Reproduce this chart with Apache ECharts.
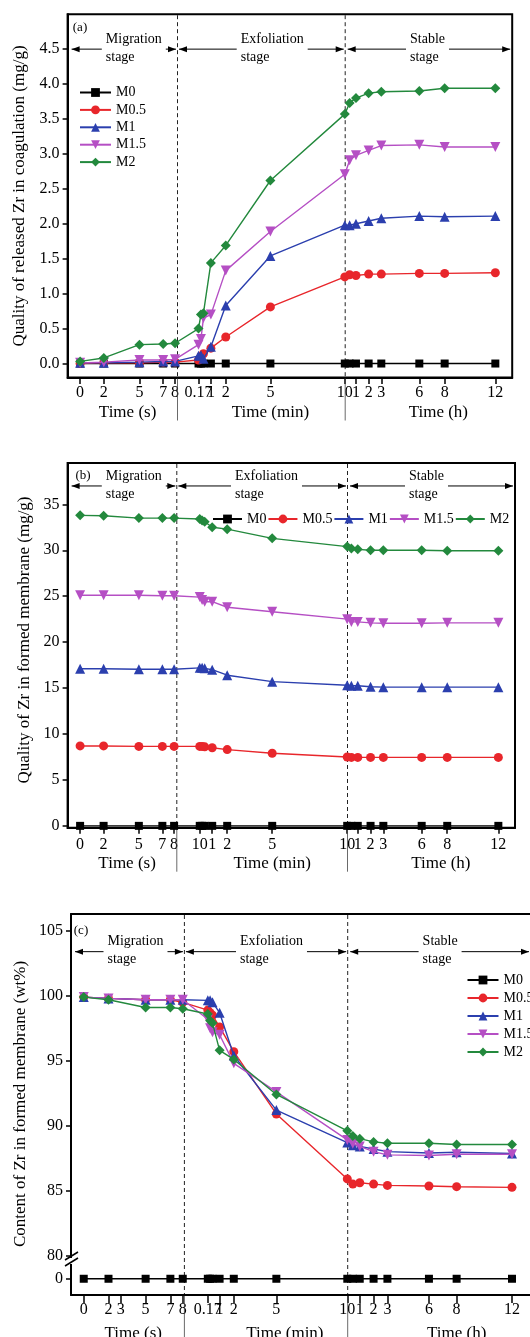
<!DOCTYPE html>
<html><head><meta charset="utf-8">
<script src="https://cdn.jsdelivr.net/npm/echarts@6/dist/echarts.min.js"></script>
<style>html,body{margin:0;padding:0;background:#fff}#c{width:530px;height:1337px}</style>
</head><body><div id="c"></div>
<script>
// ---------------- DATA ----------------
const secT = [0, 2, 5, 7, 8];                    // seconds
const minT = [0.17, 0.33, 0.5, 1, 2, 5, 10];     // minutes
const hrT  = [0.5, 1, 2, 3, 6, 8, 12];           // hours
const seriesNames = ['M0', 'M0.5', 'M1', 'M1.5', 'M2'];

// (a) Quality of released Zr in coagulation (mg/g)
const aM0  = [0,0,0,0,0, 0,0,0,0,0,0,0, 0,0,0,0,0,0,0];
const aM05 = [0,0.01,0.01,0.02,0.02, 0.05,0.10,0.14,0.22,0.38,0.81,1.24, 1.27,1.26,1.28,1.28,1.29,1.29,1.30];
const aM1  = [0.01,0.01,0.02,0.03,0.03, 0.11,0.12,0.07,0.24,0.83,1.54,1.98, 1.98,2.00,2.04,2.08,2.11,2.10,2.11];
const aM15 = [0.01,0.02,0.05,0.05,0.06, 0.27,0.35,0.65,0.70,1.33,1.89,2.71, 2.91,2.98,3.05,3.12,3.13,3.10,3.10];
const aM2  = [0.03,0.08,0.27,0.28,0.29, 0.50,0.70,0.72,1.44,1.69,2.62,3.57, 3.73,3.80,3.87,3.89,3.90,3.94,3.94];

// (b) Quality of Zr in formed membrane (mg/g)
const bM0  = [0,0,0,0,0, 0,0,0,0,0,0,0, 0,0,0,0,0,0,0];
const bM05 = [8.7,8.7,8.65,8.65,8.65, 8.65,8.65,8.6,8.5,8.3,7.9,7.5, 7.45,7.45,7.45,7.45,7.45,7.45,7.45];
const bM1  = [17.1,17.1,17.05,17.05,17.05, 17.2,17.2,17.15,17.0,16.4,15.7,15.3, 15.25,15.25,15.15,15.1,15.1,15.1,15.1];
const bM15 = [25.1,25.1,25.1,25.05,25.05, 24.9,24.6,24.4,24.4,23.8,23.3,22.5, 22.2,22.2,22.1,22.05,22.05,22.1,22.1];
const bM2  = [33.8,33.75,33.5,33.5,33.5, 33.4,33.25,33.1,32.5,32.3,31.3,30.4, 30.2,30.1,30.0,30.0,30.0,29.95,29.95];

// (c) Content of Zr in formed membrane (wt%)
const cM0  = [0,0,0,0,0, 0,0,0,0,0,0,0, 0,0,0,0,0,0,0];
const cM05 = [99.9,99.8,99.7,99.7,99.5, 98.9,98.7,98.5,97.6,95.7,90.9,85.9, 85.5,85.6,85.5,85.4,85.35,85.3,85.25];
const cM1  = [99.9,99.8,99.7,99.7,99.7, 99.65,99.65,99.5,98.7,95.4,91.2,88.7, 88.5,88.4,88.2,88.0,87.9,87.95,87.85];
const cM15 = [99.9,99.8,99.7,99.7,99.7, 98.2,97.5,97.2,97.0,94.8,92.6,88.9, 88.6,88.4,88.0,87.75,87.7,87.8,87.8];
const cM2  = [99.9,99.7,99.1,99.1,99.0, 98.6,98.1,97.9,95.8,95.1,92.4,89.6, 89.2,89.0,88.75,88.65,88.65,88.55,88.55];

// tick labels
const secTicksAB = [0, 2, 5, 7, 8];
const secTicksC  = [0, 2, 3, 5, 7, 8];
const minTicks   = [0.17, 1, 2, 5, 10];
const minLabelsAC = ['0.17', '1', '2', '5', '10'];
const minLabelsB  = ['10', '1', '2', '5', '10'];
const hrTicks    = [1, 2, 3, 6, 8, 12];
const yTicksA = [0, 0.5, 1, 1.5, 2, 2.5, 3, 3.5, 4, 4.5];
const yTicksB = [0, 5, 10, 15, 20, 25, 30, 35];
const yTicksC = [80, 85, 90, 95, 100, 105];
const yTicksC0 = [0];
const yTitles = ['Quality of released Zr in coagulation (mg/g)', 'Quality of Zr in formed membrane (mg/g)', 'Content of Zr in formed membrane (wt%)'];
const stageTexts = ['Migration\nstage', 'Exfoliation\nstage', 'Stable\nstage'];
const segTitles = ['Time (s)', 'Time (min)', 'Time (h)'];

// ---------------- STYLE / LAYOUT ----------------
const FONT = '"Liberation Serif","Times New Roman",Times,serif';
const COLORS = {'M0':'#000000','M0.5':'#e8262b','M1':'#2b3fae','M1.5':'#b54fc4','M2':'#23893d'};
const SYMBOLS = {'M0':'rect','M0.5':'circle','M1':'triangle','M1.5':'path://M0,0L10,0L5,9Z','M2':'diamond'};
const SIZES = {'M0':8,'M0.5':9,'M1':10,'M1.5':10,'M2':10};

const PANELS = [
  { key:'a', grid:{left:67.6, top:14.2, width:444.6, height:363.3}, y:[-0.2, 5.0],
    seg:{s:[12.5,11.87], min:[128.4,14.88], h:[275.7,12.67]},
    sep:[109.9, 277.6], arrowY:4.5, textX:[105.8, 240.7, 410], tag:{x:80, y:28, t:'(a)'},
    titleY:413, titleAt:[['s',4],['min',5],['h',7.5]], sepBelow:43, yTitle:{x:19.5, y:196},
    vals:[aM0,aM05,aM1,aM15,aM2], yTicks:yTicksA, yFmt:v=>v.toFixed(1),
    secTicks:secTicksAB, minLabels:minLabelsAC, tickLen:6.5, labMargin:7,
    legend:{orient:'vertical', left:74, top:80.5, itemGap:3.4, itemWidth:31} },
  { key:'b', grid:{left:67.6, top:463, width:447.4, height:364.7}, y:[-0.2, 39.5],
    seg:{s:[12.5,11.75], min:[129.6,15.0], h:[277.4,12.78]},
    sep:[109.2, 279.9], arrowY:37, textX:[105.8, 235, 409], tag:{x:83, y:475.5, t:'(b)'},
    titleY:864, titleAt:[['s',4],['min',5],['h',7.5]], sepBelow:44, yTitle:{x:25, y:640},
    vals:[bM0,bM05,bM1,bM15,bM2], yTicks:yTicksB, yFmt:v=>String(v),
    secTicks:secTicksAB, minLabels:minLabelsB, tickLen:6, labMargin:9,
    legend:{orient:'horizontal', left:207, top:507, itemGap:1, itemWidth:29} },
  { key:'c', grid:{left:71, top:914, width:461, height:348}, y:[79.5, 106.3],
    grid2:{left:71, top:1262, width:461, height:33}, y2:[-1.25, 1.29],
    seg:{s:[12.8,12.43], min:[135,14.25], h:[276.1,13.9]},
    sep:[113.9, 277.9], arrowY:103.4, textX:[107.5, 240, 422.6], tag:{x:81, y:930.7, t:'(c)'},
    titleY:1334, titleAt:[['s',4],['min',5.6],['h',8]], sepBelow:45, yTitle:{x:21, y:1104},
    vals:[cM0,cM05,cM1,cM15,cM2], yTicks:yTicksC, yFmt:v=>String(v),
    secTicks:secTicksC, minLabels:minLabelsAC, tickLen:8, labMargin:7,
    legend:{orient:'vertical', left:461.5, top:968, itemGap:4, itemWidth:31} }
];

const timePts = [...secT.map(t=>['s',t]), ...minT.map(t=>['min',t]), ...hrT.map(t=>['h',t])];
function toU(p, seg, t){ const s = p.seg[seg]; return s[0] + s[1]*t; }

function xTickList(p){
  const list = [];
  p.secTicks.forEach(t=>list.push([toU(p,'s',t), String(t)]));
  minTicks.forEach((t,i)=>list.push([toU(p,'min',t), p.minLabels[i]]));
  hrTicks.forEach(t=>list.push([toU(p,'h',t), String(t)]));
  return list;
}

const grids = [], xAxes = [], yAxes = [], series = [], legends = [];
const axisBlack = {color:'#000', width:2};

PANELS.forEach((p, pi) => {
  const ticks = xTickList(p);
  const tickVals = ticks.map(d=>d[0]);
  const fmtX = v => { const f = ticks.find(d=>Math.abs(d[0]-v)<1e-6); return f ? f[1] : ''; };
  const W = p.grid.width;
  const hasLower = !!p.grid2;
  const gi = grids.length;
  grids.push(Object.assign({}, p.grid, hasLower ? {show:false} : {show:true, borderColor:'#000', borderWidth:2}));
  let gLower = null;
  if (hasLower) { gLower = grids.length; grids.push(Object.assign({show:false}, p.grid2)); }
  p.xi = xAxes.length; p.yi = yAxes.length;

  const visibleX = {
    type:'value', min:0, max:W,
    axisLine:{show:true, onZero:false, lineStyle:axisBlack},
    axisTick:{show:true, inside:false, length:p.tickLen, customValues:tickVals, lineStyle:{color:'#000', width:1.5}},
    axisLabel:{show:true, customValues:tickVals, formatter:fmtX, fontFamily:FONT, fontSize:16, color:'#000', margin:p.labMargin},
    splitLine:{show:false}
  };
  const yAxisBase = (ticksY, fmt, range, gidx) => ({
    type:'value', gridIndex:gidx, min:range[0], max:range[1],
    axisLine:{show:true, onZero:false, lineStyle:axisBlack},
    axisTick:{show:true, inside:false, length:5, customValues:ticksY, lineStyle:{color:'#000', width:1.5}},
    axisLabel:{show:true, customValues:ticksY, formatter:fmt, fontFamily:FONT, fontSize:16, color:'#000', margin:8},
    splitLine:{show:false}
  });

  if (!hasLower) {
    xAxes.push(Object.assign({gridIndex:gi, position:'bottom'}, visibleX));
    yAxes.push(yAxisBase(p.yTicks, p.yFmt, p.y, gi));
    p.xiB = p.xi;
  } else {
    xAxes.push({type:'value', gridIndex:gi, position:'top', min:0, max:W,
      axisLine:{show:true, onZero:false, lineStyle:axisBlack}, axisTick:{show:false}, axisLabel:{show:false}, splitLine:{show:false}});
    yAxes.push(yAxisBase(p.yTicks, p.yFmt, p.y, gi));
    p.xiB = xAxes.length;
    p.yiLow = yAxes.length;
    xAxes.push(Object.assign({gridIndex:gLower, position:'bottom'}, visibleX));
    yAxes.push(yAxisBase(yTicksC0, v=>String(v), p.y2, gLower));
  }

  seriesNames.forEach((name, si) => {
    const vals = p.vals[si];
    const useLower = hasLower && name === 'M0';
    series.push({
      type:'line', name:name,
      xAxisIndex: useLower ? p.xiB : p.xi,
      yAxisIndex: useLower ? p.yiLow : p.yi,
      data: timePts.map((tp,i)=>[toU(p, tp[0], tp[1]), vals[i]]),
      symbol:SYMBOLS[name], symbolSize:SIZES[name], showSymbol:true,
      lineStyle:{color:COLORS[name], width:1.4},
      itemStyle:{color:COLORS[name]},
      emphasis:{disabled:true}, animation:false, z: 2 + (name==='M0' ? 0 : si)
    });
  });

  legends.push(Object.assign({
    data:seriesNames, itemHeight:11,
    textStyle:{fontFamily:FONT, fontSize:14, color:'#000'}, selectedMode:false
  }, p.legend));
});

const option = {
  backgroundColor:'#fff', animation:false,
  grid:grids, xAxis:xAxes, yAxis:yAxes, series:series, legend:legends
};

const chart = echarts.init(document.getElementById('c'), null, {renderer:'canvas'});
chart.setOption(option);

// ---------------- annotations (positions via the axes) ----------------
const gfx = [];
PANELS.forEach(p => {
  const X = u => chart.convertToPixel({xAxisIndex:p.xiB}, u);
  const Y = v => chart.convertToPixel({yAxisIndex:p.yi}, v);
  const top = p.grid.top;
  const bot = p.grid2 ? p.grid2.top + p.grid2.height : p.grid.top + p.grid.height;
  const left = p.grid.left, right = p.grid.left + p.grid.width;
  const xs = p.sep.map(X);
  xs.forEach(x => {
    gfx.push({type:'line', silent:true, z:1, shape:{x1:x, y1:top+1, x2:x, y2:bot-1}, style:{stroke:'#222', lineWidth:1, lineDash:[4,3]}});
    gfx.push({type:'line', silent:true, z:1, shape:{x1:x, y1:bot+1, x2:x, y2:bot+p.sepBelow}, style:{stroke:'#444', lineWidth:0.8}});
  });
  const ay = Y(p.arrowY);
  const stages = [[left+4, xs[0]-1.5], [xs[0]+1.5, xs[1]-1.5], [xs[1]+2.5, Math.min(right-2, 529)]];
  stages.forEach((st, i) => {
    const [x1, x2] = st;
    gfx.push({type:'line', silent:true, z:2, shape:{x1:x1, y1:ay, x2:x2, y2:ay}, style:{stroke:'#000', lineWidth:1}});
    gfx.push({type:'polygon', silent:true, z:3, shape:{points:[[x1,ay],[x1+8,ay-3],[x1+8,ay+3]]}, style:{fill:'#000'}});
    gfx.push({type:'polygon', silent:true, z:3, shape:{points:[[x2,ay],[x2-8,ay-3],[x2-8,ay+3]]}, style:{fill:'#000'}});
    gfx.push({type:'text', silent:true, z:4, x:p.textX[i]-4, y:ay-1,
      style:{text:stageTexts[i], fontFamily:FONT, fontSize:14, fill:'#000', align:'left', verticalAlign:'middle',
             lineHeight:18, backgroundColor:'#fff', padding:[0,4,0,4]}});
  });
  gfx.push({type:'text', silent:true, z:4, x:p.tag.x, y:p.tag.y,
    style:{text:p.tag.t, fontFamily:FONT, fontSize:13, fill:'#000', align:'center', verticalAlign:'middle'}});
  p.titleAt.forEach((ta, i) => {
    gfx.push({type:'text', silent:true, z:4, x:X(toU(p, ta[0], ta[1])), y:p.titleY,
      style:{text:segTitles[i], fontFamily:FONT, fontSize:17, fill:'#000', align:'center', verticalAlign:'middle'}});
  });
  gfx.push({type:'text', silent:true, z:4, x:p.yTitle.x, y:p.yTitle.y, rotation:Math.PI/2,
    style:{text:yTitles[PANELS.indexOf(p)], fontFamily:FONT, fontSize:17, fill:'#000', align:'center', verticalAlign:'middle'}});
  if (p.grid2) {
    const bx = left, by = p.grid2.top - 1;
    gfx.push({type:'rect', silent:true, z:5, shape:{x:bx-2, y:by-3, width:4, height:6}, style:{fill:'#fff'}});
    gfx.push({type:'line', silent:true, z:6, shape:{x1:bx-6, y1:by-1, x2:bx+7, y2:by-9}, style:{stroke:'#000', lineWidth:1.5}});
    gfx.push({type:'line', silent:true, z:6, shape:{x1:bx-6, y1:by+5, x2:bx+7, y2:by-3}, style:{stroke:'#000', lineWidth:1.5}});
  }
});
chart.setOption({graphic:gfx});
</script>
</body></html>
